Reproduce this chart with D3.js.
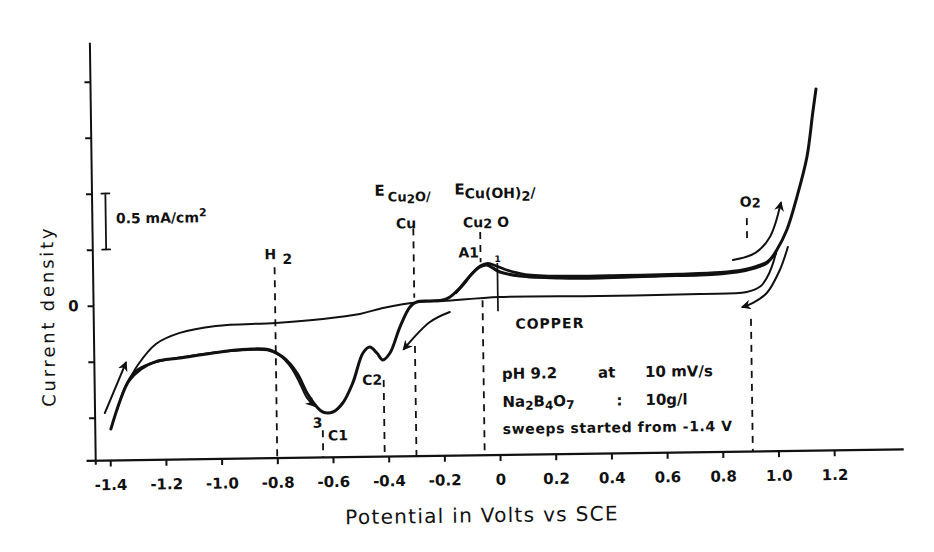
<!DOCTYPE html>
<html>
<head>
<meta charset="utf-8">
<style>
body { margin: 0; background: #fff; }
text { font-family: "DejaVu Sans", sans-serif; fill: #111; font-weight: bold; }
.curve { fill: none; stroke: #111; stroke-linejoin: round; stroke-linecap: round; }
.dash { stroke: #111; stroke-width: 1.8; stroke-dasharray: 7,6; }
.axis path { display: none; }
.axis line { stroke: #111; stroke-width: 2; }
.axis text { font-size: 15px; font-family: "DejaVu Sans", sans-serif; }
.title { font-weight: normal; }
</style>
<script src="https://d3js.org/d3.v7.min.js"></script>
</head>
<body>
<script>
// potential (V vs SCE) and current density (mA/cm2)
var fwdV = [-1.396,-1.362,-1.329,-1.285,-1.231,-1.145,-0.972,-0.886,-0.821,-0.775,-0.725,-0.690,-0.655,-0.634,-0.598,-0.562,-0.525,-0.487,-0.462,-0.437,-0.416,-0.390,-0.353,-0.316,-0.291,-0.244,-0.197,-0.172,-0.136,-0.099,-0.063,-0.038,-0.017,0.009,0.080,0.224,0.367,0.583,0.727,0.860,0.924,0.968,1.004,1.041,1.079,1.117,1.140,1.153];
var fwdI = [-1.104,-0.854,-0.677,-0.571,-0.507,-0.478,-0.421,-0.406,-0.418,-0.482,-0.627,-0.806,-0.932,-0.978,-0.979,-0.900,-0.722,-0.456,-0.404,-0.458,-0.521,-0.460,-0.229,-0.051,-0.007,0.000,0.007,0.033,0.112,0.218,0.297,0.314,0.287,0.250,0.212,0.189,0.184,0.195,0.198,0.221,0.254,0.297,0.412,0.589,0.882,1.238,1.630,1.845];

var revV = [1.004,0.985,0.966,0.944,0.894,0.726,0.367,0.007,-0.197,-0.280,-0.413,-0.496,-0.629,-0.798,-1.014,-1.144,-1.230,-1.296,-1.329];
var revI = [0.412,0.260,0.160,0.090,0.040,0.029,0.023,0.027,-0.002,-0.008,-0.057,-0.107,-0.147,-0.177,-0.196,-0.254,-0.350,-0.535,-0.677];

// third sweep, where it does not lie on the first one
var c3aV = [-1.372,-1.345,-1.31,-1.27,-1.21,-1.12,-1.0,-0.90,-0.83,-0.785,-0.745,-0.715,-0.69,-0.665];
var c3aI = [-0.93,-0.74,-0.60,-0.54,-0.50,-0.465,-0.43,-0.415,-0.42,-0.47,-0.58,-0.72,-0.85,-0.92];
var c3bV = [-0.15,-0.12,-0.09,-0.06,-0.035,-0.01,0.03,0.10,0.25,0.45,0.65,0.80,0.88,0.93,0.97,1.0];
var c3bI = [0.07,0.15,0.245,0.31,0.33,0.31,0.27,0.225,0.205,0.205,0.21,0.22,0.24,0.27,0.31,0.38];

// sweep direction arrows
var arrowLeftV = [-1.417,-1.339], arrowLeftI = [-0.960,-0.515];
var arrowMidV = [-0.173,-0.245,-0.340], arrowMidI = [-0.101,-0.188,-0.426];
var arrowUpV = [0.846,0.927,0.980,1.021], arrowUpI = [0.328,0.388,0.529,0.831];
var arrowDownV = [1.044,1.014,0.966,0.916,0.879], arrowDownI = [0.437,0.233,0.029,-0.058,-0.093];

// dashed marker lines: potential, top and bottom current
var guideV   = [-0.80, -0.635, -0.414, -0.30, -0.30, -0.06, -0.055, 0.898, 0.908];
var guideTop = [0.32, -1.14, -0.70, 0.65, -0.40, 0.61, 0.0, 0.70, -0.20];
var guideBot = [-1.384, -1.384, -1.384, 0.03, -1.384, 0.34, -1.384, 0.51, -1.384];

var xTicks = [-1.4,-1.2,-1.0,-0.8,-0.6,-0.4,-0.2,0,0.2,0.4,0.6,0.8,1.0,1.2];
var yTicks = [-1,-0.5,0,0.5,1,1.5,2];

var width = 934, height = 552;

var svg = d3.select("body").append("svg")
	.attr("width", width)
	.attr("height", height);

svg.append("defs").append("marker")
	.attr("id", "ah")
	.attr("viewBox", "0 0 10 10")
	.attr("refX", 8).attr("refY", 5)
	.attr("markerWidth", 10).attr("markerHeight", 10)
	.attr("markerUnits", "userSpaceOnUse")
	.attr("orient", "auto")
  .append("path")
	.attr("d", "M0,0 L10,5 L0,10 L3,5 z")
	.attr("fill", "#111");

// the scan sits a little crooked
var g = svg.append("g").attr("transform", "rotate(-0.8,500,300)");

var x = d3.scaleLinear().domain([-1.4, 1.2]).range([108, 832]);
var y = d3.scaleLinear().domain([-1.384, 2.348]).range([455, 37]);

function pts(vs, is) { return vs.map(function(v, k) { return [v, is[k]]; }); }

var line = d3.line()
	.x(function(d) { return x(d[0]); })
	.y(function(d) { return y(d[1]); })
	.curve(d3.curveCatmullRom);

// axes
g.append("line").attr("x1", x(-1.485)).attr("x2", x(1.45))
	.attr("y1", y(-1.384)).attr("y2", y(-1.384))
	.attr("stroke", "#111").attr("stroke-width", 2.2);
g.append("line").attr("x1", x(-1.452)).attr("x2", x(-1.452))
	.attr("y1", y(2.348)).attr("y2", y(-1.42))
	.attr("stroke", "#111").attr("stroke-width", 2);

g.append("g").attr("class", "axis")
	.attr("transform", "translate(0," + y(-1.384) + ")")
	.call(d3.axisBottom(x).tickValues(xTicks).tickSize(6).tickPadding(13)
		.tickFormat(function(d) { return d === 0 ? "0" : d.toFixed(1); }));

g.append("g").attr("class", "axis")
	.attr("transform", "translate(" + x(-1.452) + ",0)")
	.call(d3.axisLeft(y).tickValues(yTicks).tickSize(6).tickPadding(9)
		.tickFormat(function(d) { return d === 0 ? "0" : ""; }));

// dashed guides
g.selectAll(".dash").data(guideV).enter().append("line")
	.attr("class", "dash")
	.attr("x1", function(d) { return x(d); })
	.attr("x2", function(d) { return x(d); })
	.attr("y1", function(d, k) { return y(guideTop[k]); })
	.attr("y2", function(d, k) { return y(guideBot[k]); });

// short solid mark at the end of sweep 1
g.append("line").attr("x1", x(0)).attr("x2", x(0))
	.attr("y1", y(0.33)).attr("y2", y(-0.1))
	.attr("stroke", "#111").attr("stroke-width", 1.7);

// curves
g.append("path").attr("class", "curve").attr("stroke-width", 2)
	.attr("d", line(pts(revV, revI)));
g.append("path").attr("class", "curve").attr("stroke-width", 3)
	.attr("d", line(pts(fwdV, fwdI)));
g.append("path").attr("class", "curve").attr("stroke-width", 2)
	.attr("marker-end", "url(#ah)")
	.attr("d", line(pts(c3aV, c3aI)));
g.append("path").attr("class", "curve").attr("stroke-width", 2.6)
	.attr("d", line(pts(c3bV, c3bI)));

[[arrowLeftV, arrowLeftI], [arrowMidV, arrowMidI], [arrowUpV, arrowUpI], [arrowDownV, arrowDownI]]
	.forEach(function(a) {
		g.append("path").attr("class", "curve").attr("stroke-width", 2)
			.attr("marker-end", "url(#ah)")
			.attr("d", line(pts(a[0], a[1])));
	});

// scale bar 0.5 mA/cm2
var sbx = x(-1.404);
g.append("path").attr("class", "curve").attr("stroke-width", 1.8)
	.attr("d", "M" + (sbx - 4) + "," + y(1) + "H" + (sbx + 4) + "M" + sbx + "," + y(1) +
		"V" + y(0.5) + "M" + (sbx - 4) + "," + y(0.5) + "H" + (sbx + 4));
g.append("text").attr("x", 117).attr("y", 218).style("font-size", "14px")
	.text("0.5 mA/cm").append("tspan").attr("dy", -6).style("font-size", "11px").text("2");

// titles
g.append("text").attr("class", "title").attr("transform", "translate(54,310) rotate(-90)")
	.attr("text-anchor", "middle").style("font-size", "18px").style("letter-spacing", "2.8px")
	.text("Current density");
g.append("text").attr("class", "title").attr("x", 479).attr("y", 522).attr("text-anchor", "middle")
	.style("font-size", "20px").style("letter-spacing", "1.3px")
	.text("Potential in Volts vs SCE");

// annotations
function lab(px, py, s, fs) {
	return g.append("text").attr("x", px).attr("y", py).style("font-size", (fs || 14) + "px").text(s);
}
lab(265, 256, "H", 14);
lab(283, 261, "2", 14);
var e1 = lab(376, 194, "E", 15);
e1.append("tspan").attr("dx", 3).attr("dy", 6).style("font-size", "13px").text("Cu");
e1.append("tspan").attr("dy", 2).style("font-size", "12px").text("2");
e1.append("tspan").attr("dy", -2).style("font-size", "13px").text("O/");
lab(397, 227, "Cu", 14);
var e2 = lab(456, 194, "E", 15);
e2.append("tspan").attr("dy", 4).style("font-size", "14px").text("Cu(OH)");
e2.append("tspan").attr("dy", 3).style("font-size", "13px").text("2");
e2.append("tspan").attr("dy", -3).style("font-size", "14px").text("/");
var c2o = lab(464, 227, "Cu", 14);
c2o.append("tspan").attr("dy", 1).style("font-size", "13px").text("2");
c2o.append("tspan").attr("dx", 5).attr("dy", -1).style("font-size", "14px").text("O");
lab(459, 257, "A1", 14);
lab(495, 262, "1", 9);
lab(311, 425, "3", 14);
lab(326, 438, "C1", 14);
lab(361, 383, "C2", 14);
var o2 = lab(741, 210, "O", 14);
o2.append("tspan").attr("dy", 1).style("font-size", "13px").text("2");
lab(515, 329, "COPPER", 14).style("letter-spacing", "1px");
lab(501, 379, "pH 9.2", 15);
lab(597, 379, "at", 15);
lab(644, 379, "10 mV/s", 15);
var na = lab(501, 407, "Na", 15);
na.append("tspan").attr("dy", 3).style("font-size", "12px").text("2");
na.append("tspan").attr("dy", -3).text("B");
na.append("tspan").attr("dy", 3).style("font-size", "12px").text("4");
na.append("tspan").attr("dy", -3).text("O");
na.append("tspan").attr("dy", 3).style("font-size", "12px").text("7");
lab(615, 407, ":", 15);
lab(644, 407, "10g/l", 15);
lab(501, 434, "sweeps started from -1.4 V", 14).style("letter-spacing", "0.6px");
</script>
</body>
</html>
